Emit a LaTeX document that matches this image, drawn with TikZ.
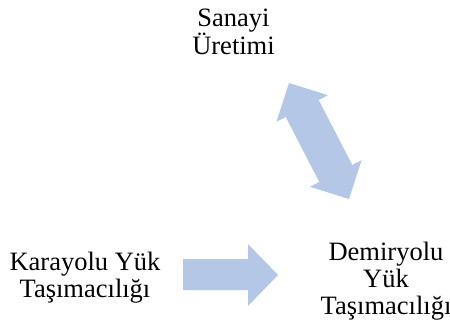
\documentclass[tikz,border=0pt]{standalone}
\usepackage{fontspec}
\setmainfont{Liberation Serif}
\definecolor{arrowblue}{HTML}{B4C7E7}
\begin{document}
\begin{tikzpicture}[x=1pt,y=-1pt,
  lbl/.style={align=center,inner sep=0pt,font=\fontsize{26.5}{26.8}\selectfont},
  blockarrow/.style={fill=arrowblue,draw=none}]
\useasboundingbox[fill=white] (0,0) rectangle (450,322);
\node[lbl] (sanayi) at (233.5,32) {Sanayi\\Üretimi};
\node[lbl] (karayolu) at (85,278) {Karayolu Yük\\Taşımacılığı};
\node[lbl] (demiryolu) at (386,281) {Demiryolu\\Yük\\Taşımacılığı};
% right arrow
\fill[blockarrow] (183,259) -- (248,259) -- (248,244) -- (278,275) -- (248,306) -- (248,290) -- (183,290) -- cycle;
% double arrow
\fill[blockarrow] (289,83) -- (328.0,95.2) -- (318.7,100.0) -- (352.3,165.0) -- (361.6,160.2)
  -- (349,199) -- (310.0,186.8) -- (319.3,182.0) -- (285.7,117.0) -- (276.4,121.8) -- cycle;
\end{tikzpicture}
\end{document}
